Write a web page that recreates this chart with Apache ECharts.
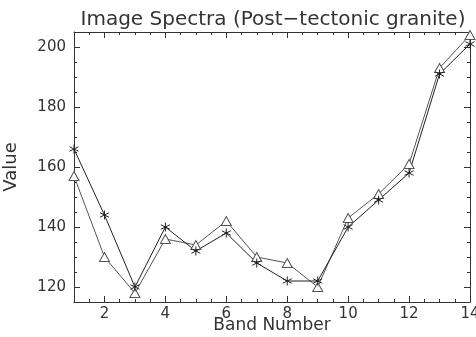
<!DOCTYPE html>
<html>
<head>
<meta charset="utf-8">
<script src="https://cdn.jsdelivr.net/npm/echarts@6/dist/echarts.min.js"></script>
<style>
  html, body { margin: 0; padding: 0; background: #fff; }
  #chart { width: 476px; height: 337px; }
</style>
</head>
<body>
<div id="chart"></div>
<script>
// band numbers and the two spectra
var bands = [1, 2, 3, 4, 5, 6, 7, 8, 9, 10, 11, 12, 13, 14];
var starValues = [166, 144, 120, 140, 132, 138, 128, 122, 122, 140, 149, 158, 191, 201];
var triangleValues = [157, 130, 118, 136, 134, 142, 130, 128, 120, 143, 151, 161, 193, 204];

var asterisk = 'path://M0,-5L0,5M-4.33,-2.5L4.33,2.5M-4.33,2.5L4.33,-2.5';
var axisColor = '#333';
var fontFamily = 'DejaVu Sans';

function pairs(values) {
    return bands.map(function(b, i) { return [b, values[i]]; });
}

function xAxisOpt(pos, showLabel) {
    return {
        type: 'value',
        position: pos,
        min: 1,
        max: 14,
        splitNumber: 6,
        name: showLabel ? 'Band Number' : '',
        nameLocation: 'middle',
        nameGap: 15,
        nameMoveOverlap: false,
        nameTextStyle: { color: axisColor, fontSize: 17, fontFamily: fontFamily },
        axisLine: { show: true, lineStyle: { color: axisColor, width: 1 } },
        axisTick: { show: true, inside: true, length: 6, lineStyle: { color: axisColor } },
        minorTick: { show: true, splitNumber: 4, length: 3, lineStyle: { color: axisColor } },
        axisLabel: {
            show: showLabel,
            margin: 5,
            color: axisColor,
            fontSize: 15,
            fontFamily: fontFamily,
            formatter: function(v) { return v % 2 === 0 ? String(v) : ''; }
        },
        splitLine: { show: false }
    };
}

function yAxisOpt(pos, showLabel) {
    return {
        type: 'value',
        position: pos,
        min: 115,
        max: 205,
        splitNumber: 4,
        name: showLabel ? 'Value' : '',
        nameLocation: 'middle',
        nameGap: 54,
        nameMoveOverlap: false,
        nameTextStyle: { color: axisColor, fontSize: 18, fontFamily: fontFamily },
        axisLine: { show: true, lineStyle: { color: axisColor, width: 1 } },
        axisTick: { show: true, inside: true, length: 6, lineStyle: { color: axisColor } },
        minorTick: { show: true, splitNumber: 4, length: 3, lineStyle: { color: axisColor } },
        axisLabel: {
            show: showLabel,
            margin: 8,
            color: axisColor,
            fontSize: 15,
            fontFamily: fontFamily,
            formatter: function(v) { return v % 20 === 0 ? String(v) : ''; }
        },
        splitLine: { show: false }
    };
}

var option = {
    animation: false,
    backgroundColor: '#fff',
    title: {
        text: 'Image Spectra (Post\u2212tectonic granite)',
        left: 268,
        textAlign: 'center',
        top: 5,
        textStyle: { color: axisColor, fontSize: 20, fontWeight: 'normal', fontFamily: fontFamily }
    },
    grid: { left: 74, right: 6, top: 32, bottom: 35, outerBoundsMode: 'none', containLabel: false },
    xAxis: [xAxisOpt('bottom', true), xAxisOpt('top', false)],
    yAxis: [yAxisOpt('left', true), yAxisOpt('right', false)],
    series: [
        {
            type: 'line',
            data: pairs(triangleValues),
            symbol: 'triangle',
            symbolSize: [10, 9],
            lineStyle: { color: '#555', width: 1 },
            itemStyle: { color: '#fff', borderColor: '#555', borderWidth: 1 }
        },
        {
            type: 'line',
            data: pairs(starValues),
            symbol: asterisk,
            symbolSize: [9, 9],
            lineStyle: { color: '#222', width: 1 },
            itemStyle: { color: '#222', borderColor: '#222', borderWidth: 1 }
        }
    ]
};

var myChart = echarts.init(document.getElementById('chart'));
myChart.setOption(option);
</script>
</body>
</html>
